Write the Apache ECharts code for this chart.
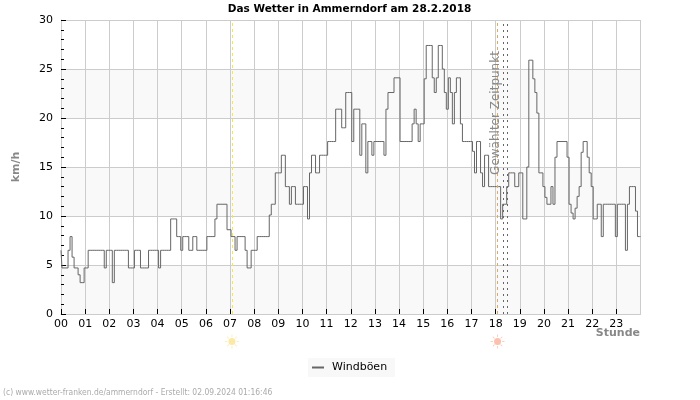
<!DOCTYPE html>
<html><head><meta charset="utf-8">
<style>html,body{margin:0;padding:0;background:#fff}#c{width:700px;height:400px}</style>
<script src="https://cdn.jsdelivr.net/npm/echarts@6/dist/echarts.min.js"></script>
</head><body><div id="c"></div>
<script>
const titleText = 'Das Wetter in Ammerndorf am 28.2.2018';
const footerText = '(c) www.wetter-franken.de/ammerndorf - Erstellt: 02.09.2024 01:16:46';
const hourLabels = ['00','01','02','03','04','05','06','07','08','09','10','11','12','13','14','15','16','17','18','19','20','21','22','23'];
// Windböen in km/h, one reading every 5 minutes
const gusts = [
 6.5,4.7,4.7,4.7,6.5,7.9,5.8,4.7,4.7,4.0,3.2,3.2,
 4.7,4.7,6.5,6.5,6.5,6.5,6.5,6.5,6.5,6.5,4.7,6.5,
 6.5,6.5,3.2,6.5,6.5,6.5,6.5,6.5,6.5,6.5,4.7,4.7,
 4.7,6.5,6.5,6.5,4.7,4.7,4.7,4.7,6.5,6.5,6.5,6.5,
 6.5,4.7,6.5,6.5,6.5,6.5,6.5,9.7,9.7,9.7,7.9,7.9,
 6.5,7.9,7.9,7.9,6.5,6.5,7.9,7.9,6.5,6.5,6.5,6.5,
 6.5,7.9,7.9,7.9,7.9,9.7,11.2,11.2,11.2,11.2,11.2,8.6,
 8.6,7.9,7.9,6.5,7.9,7.9,7.9,7.9,6.5,4.7,4.7,6.5,
 6.5,6.5,7.9,7.9,7.9,7.9,7.9,7.9,10.1,11.2,11.2,14.4,
 14.4,14.4,16.2,16.2,13,13,11.2,13,13,11.2,11.2,11.2,
 11.2,13,13,9.7,14.4,16.2,16.2,14.4,14.4,16.2,16.2,16.2,
 16.2,17.6,17.6,17.6,17.6,20.9,20.9,20.9,19,19,22.6,22.6,
 22.6,17.6,20.9,20.9,20.9,16.2,19.4,19.4,14.4,17.6,17.6,16.2,
 17.6,17.6,17.6,17.6,17.6,16.2,20.9,22.6,22.6,22.6,24.1,24.1,
 24.1,17.6,17.6,17.6,17.6,17.6,17.6,19.4,20.9,19.4,17.6,19.4,
 19.4,24,27.4,27.4,27.4,24.1,22.6,24.1,27.4,27.4,25,22.6,
 20.9,24.1,22.6,19.4,22.6,24.1,24.1,19.4,17.6,17.6,17.6,17.6,
 17.6,16.6,14.4,17.6,17.6,14.4,13,16.2,16.2,13,13,13,
 13,13,13,9.7,11.2,11.2,13,14.4,14.4,14.4,13,13,
 14.4,14.4,9.7,9.7,15,25.9,25.9,24,22.6,20.5,14.4,14.4,
 13,11.9,11.2,11.2,13,11.2,16,17.6,17.6,17.6,17.6,17.6,
 16,11.2,10.3,9.7,10.8,12,13,16.5,17.6,17.6,16,14.4,
 13,9.7,9.7,11.2,11.2,7.9,11.2,11.2,11.2,11.2,11.2,11.2,
 7.9,11.2,11.2,11.2,11.2,6.5,11.2,13,13,13,10.5,7.9,7.9
];
const sunriseHour = 7.08, sunsetHour = 18.08, selectedHours = [18.31, 18.48];
const sunPath = 'path://M10 5a5 5 0 1 1 0 10a5 5 0 1 1 0-10zM9.5 0h1v3.5h-1zM9.5 16.5h1v3.5h-1zM0 9.5h3.5v1h-3.5zM16.5 9.5h3.5v1h-3.5zM2.9 3.6l.7-.7 2.5 2.5-.7.7zM13.9 14.6l.7-.7 2.5 2.5-.7.7zM3.6 17.1l-.7-.7 2.5-2.5.7.7zM14.6 6.1l-.7-.7 2.5-2.5.7.7z';
const font = 'DejaVu Sans';
const chart = echarts.init(document.getElementById('c'), null, {renderer:'canvas'});
const gridLine = {lineStyle:{color:'#cccccc',width:1}};
chart.setOption({
  animation:false,
  backgroundColor:'#fff',
  textStyle:{fontFamily:font},
  title:[
    {text:titleText,left:344.5,top:-1,textAlign:'center',textStyle:{fontFamily:font,fontSize:10.5,fontWeight:'bold',color:'#000'}},
    {text:'Stunde',right:60,top:323,textAlign:'left',padding:[5,0,5,0],textStyle:{fontFamily:font,fontSize:11,fontWeight:'bold',color:'#888888'}}
  ],
  grid:{left:61,top:20,width:579.5,height:294,containLabel:false,outerBoundsMode:'none'},
  legend:{show:true,left:308,top:358,itemWidth:12,itemHeight:2,itemGap:6,padding:[4,8,4,4],backgroundColor:'#f8f8f8',
    textStyle:{fontFamily:font,fontSize:11,color:'#000',padding:[0,0,0,3]},
    data:[{name:'Windböen',icon:'rect'}]},
  xAxis:{type:'value',min:0,max:24,interval:1,
    axisLine:{show:true,onZero:false,lineStyle:{color:'#cccccc'}},
    axisTick:{show:true,inside:true,length:5,lineStyle:{color:'#000'}},
    axisLabel:{fontFamily:font,fontSize:11,color:'#000',margin:5,showMaxLabel:false,hideOverlap:false,
      formatter:v=>hourLabels[v]===undefined?'':hourLabels[v]},
    splitLine:{show:true,...gridLine}},
  yAxis:{type:'value',min:0,max:30,interval:5,
    axisLine:{show:true,lineStyle:{color:'#cccccc'}},
    axisTick:{show:true,inside:true,length:5,lineStyle:{color:'#000'}},
    minorTick:{show:true,splitNumber:5,length:3,lineStyle:{color:'#000'}},
    axisLabel:{fontFamily:font,fontSize:11,color:'#000',margin:8},
    splitLine:{show:true,...gridLine},
    splitArea:{show:true,areaStyle:{color:['#f9f9f9','#ffffff']}},
    name:'km/h',nameLocation:'middle',nameGap:39,nameRotate:90,
    nameTextStyle:{fontFamily:font,fontSize:11,fontWeight:'bold',color:'#888888'}},
  graphic:[
    {type:'text',x:495.5,y:113,rotation:Math.PI/2,z:50,
      style:{text:'Gewählter Zeitpunkt',fontFamily:font,fontSize:12,fill:'#888888',align:'center',verticalAlign:'middle'}},
    {type:'text',x:3,y:393,scaleX:0.843,z:50,
      style:{text:footerText,fontFamily:font,fontSize:9,fill:'#aaaaaa',align:'left',verticalAlign:'middle'}}
  ],
  series:[{
    name:'Windböen',type:'line',step:'middle',showSymbol:false,symbol:'none',
    lineStyle:{color:'#666666',width:1},itemStyle:{color:'#666666'},
    data:gusts.map((v,i)=>[i/12,v]),
    markLine:{silent:true,symbol:'none',animation:false,label:{show:false},
      data:[
        {xAxis:sunriseHour,lineStyle:{color:'#f7e74a',type:[3,3],width:1,opacity:1}},
        {xAxis:sunsetHour,lineStyle:{color:'#e0a860',type:[3,3],width:1,opacity:1}},
        {xAxis:selectedHours[0],lineStyle:{color:'#666666',type:[2,4],width:1,opacity:1}},
        {xAxis:selectedHours[1],lineStyle:{color:'#666666',type:[2,4],width:1,opacity:1}}
      ]}
  },{
    name:'Sonne',type:'scatter',clip:false,symbol:sunPath,symbolSize:14,silent:true,
    data:[
      {value:[sunriseHour,-2.8],itemStyle:{color:'#fbe38e'}},
      {value:[sunsetHour,-2.8],itemStyle:{color:'#fbb09a'}}
    ]
  }]
});
</script></body></html>
